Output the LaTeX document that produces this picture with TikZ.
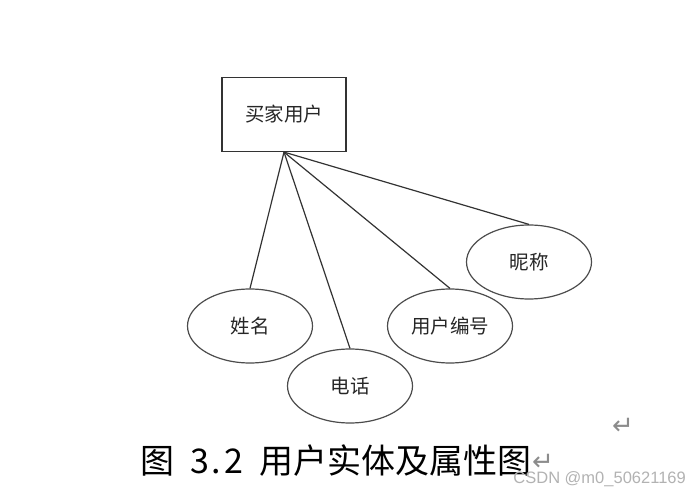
\documentclass[tikz,border=0pt]{standalone}
\usepackage{fontspec}
\setmainfont{Noto Sans CJK SC}
\newfontfamily\dejavu{DejaVu Sans}
\newfontfamily\libsans{Liberation Sans}
\usetikzlibrary{shapes.geometric}
\newcommand{\hw}[1]{\makebox[17pt]{#1}}
\begin{document}
\begin{tikzpicture}[x=1pt,y=-1pt,
  ent/.style={draw=black!80,line width=1.2pt,minimum width=124pt,minimum height=74pt,inner sep=0pt,font=\fontsize{19.5}{19.5}\selectfont,text=black!85},
  attr/.style={ellipse,draw=black!70,line width=1.2pt,minimum width=125pt,minimum height=74pt,inner sep=0pt,font=\fontsize{19.5}{19.5}\selectfont,text=black!85},
  conn/.style={draw=black!80,line width=1.2pt},
  retmark/.style={text=black!45,font=\dejavu\fontsize{26}{26}\selectfont,inner sep=0pt}]
\useasboundingbox (0,0) rectangle (699,494);
\node[ent] (box) at (284,114.5) {买家用户};
\node[attr] (e1) at (250,326) {姓名};
\node[attr] (e2) at (350,386) {电话};
\node[attr] (e3) at (450,326) {用户编号};
\node[attr] (e4) at (529,262) {昵称};
\draw[conn] (box.south) -- (e1.north);
\draw[conn] (box.south) -- (e2.north);
\draw[conn] (box.south) -- (e3.north);
\draw[conn] (box.south) -- (e4.north);
\node[inner sep=0pt,anchor=west,font=\fontsize{34}{34}\selectfont] (cap) at (140,461) {图\hw{}\hw{3}\hw{.}\hw{2}\hw{}用户实体及属性图};
\node[retmark] (r1) at (623,426) {↵};
\node[retmark] (r2) at (543,462) {↵};
\node[inner sep=0pt,anchor=east,text=black!30,font=\libsans\fontsize{16.5}{16.5}\selectfont] (wm) at (686,479) {CSDN @m0\_50621169};
\end{tikzpicture}
\end{document}
